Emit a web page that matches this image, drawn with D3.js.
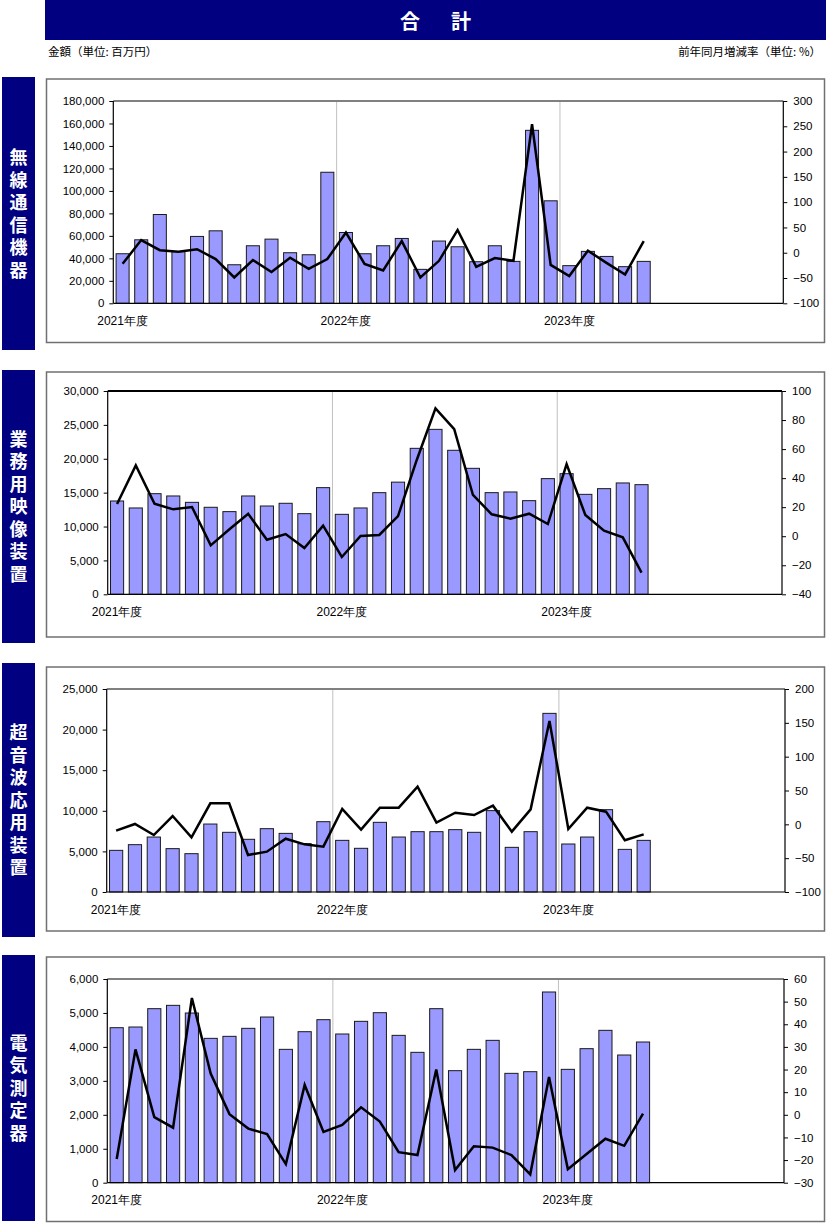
<!DOCTYPE html>
<html><head><meta charset="utf-8">
<script src="https://cdn.jsdelivr.net/npm/d3@7"></script>
<style>body{margin:0;background:#fff}svg{display:block}</style>
</head><body><svg id="c" width="826" height="1224"></svg>
<script>
// ---------- DATA ----------
const months = ["2021/04","2021/05","2021/06","2021/07","2021/08","2021/09","2021/10","2021/11","2021/12","2022/01","2022/02","2022/03",
                "2022/04","2022/05","2022/06","2022/07","2022/08","2022/09","2022/10","2022/11","2022/12","2023/01","2023/02","2023/03",
                "2023/04","2023/05","2023/06","2023/07","2023/08","2023/09","2023/10","2023/11","2023/12","2024/01","2024/02","2024/03"];
const yearLabels = ["2021年度","2022年度","2023年度"];
const yearStartMonths = ["2021/04","2022/04","2023/04"];

const radioValues = [44100,56500,79000,46000,59500,64500,34300,51200,57100,45000,43200,116600,63000,44100,51200,57700,30200,55400,50300,37000,51200,37300,153900,91200,33500,46200,41700,32600,37300];
const radioRates  = [-22,25,5,2,7,-12.5,-49,-14.5,-38,-10,-32,-12.5,40,-22,-35,23,-49,-16,45,-28,-10.5,-16,254,-24,-46,4,-20,-43,23];

const videoValues = [13770,12740,14850,14510,13570,12840,12200,14510,13030,13430,11900,15740,11800,12740,15000,16550,21540,24340,21250,18590,15000,15100,13820,17070,17800,14750,15590,16430,16180];
const videoRates  = [22.2,48.8,22.4,18.5,20.1,-6.3,4.8,15.5,-2.4,1.5,-8.1,7.3,-14.3,0.2,0.9,13.9,52.5,88,73.8,28.4,15.1,12.1,15.5,8.4,49.7,14.6,3.8,-0.8,-25.1];

const ultraValues = [5130,5830,6770,5340,4720,8370,7350,6490,7800,7220,5950,8660,6360,5380,8580,6770,7430,7430,7680,7350,10020,5500,7430,22000,5910,6770,10140,5250,6360];
const ultraRates  = [-9.4,0.5,-15.8,12.3,-19.2,31,31,-45.3,-40.4,-21.2,-29.6,-33,22.7,-7.9,24.6,24.6,55.7,2.5,17.2,13.8,27.6,-10.8,22.2,152.7,-6.9,24.6,18.7,-23.6,-14.8];

const meterValues = [4566,4586,5126,5224,4998,4252,4311,4547,4880,3928,4448,4802,4380,4753,5008,4340,3840,5126,3300,3928,4193,3221,3270,5617,3339,3948,4488,3761,4144];
const meterRates  = [-19.5,28.9,-1,-5.7,51.6,18.2,0.3,-6.1,-8.5,-21.8,13.2,-7.6,-4.5,3.3,-3,-16.5,-17.8,20,-24.4,-13.9,-14.5,-17.8,-26.3,16.7,-24,-17.3,-10.6,-13.7,0.5];

const radioLeftTicks  = [0,20000,40000,60000,80000,100000,120000,140000,160000,180000];
const radioRightTicks = [-100,-50,0,50,100,150,200,250,300];
const videoLeftTicks  = [0,5000,10000,15000,20000,25000,30000];
const videoRightTicks = [-40,-20,0,20,40,60,80,100];
const ultraLeftTicks  = [0,5000,10000,15000,20000,25000];
const ultraRightTicks = [-100,-50,0,50,100,150,200];
const meterLeftTicks  = [0,1000,2000,3000,4000,5000,6000];
const meterRightTicks = [-30,-20,-10,0,10,20,30,40,50,60];

const titleText = "合\u3000\u3000計";
const leftUnitLabel = "金額（単位: 百万円）";
const rightUnitLabel = "前年同月増減率（単位: %）";
const panelNames = ["無線通信機器","業務用映像装置","超音波応用装置","電気測定器"];

// ---------- LAYOUT ----------
const panels = [
  {name:panelNames[0], values:radioValues, rates:radioRates, lt:radioLeftTicks, rt:radioRightTicks,
   box:[77,350], frame:[79,342.5], left:113.3, right:783.3, top:101, bottom:303.3, topColor:"#808080"},
  {name:panelNames[1], values:videoValues, rates:videoRates, lt:videoLeftTicks, rt:videoRightTicks,
   box:[370,643], frame:[372,637], left:107.7, right:782, top:391, bottom:594.3, topColor:"#000"},
  {name:panelNames[2], values:ultraValues, rates:ultraRates, lt:ultraLeftTicks, rt:ultraRightTicks,
   box:[663,937], frame:[667,931], left:106.7, right:785, top:689, bottom:892, topColor:"#808080"},
  {name:panelNames[3], values:meterValues, rates:meterRates, lt:meterLeftTicks, rt:meterRightTicks,
   box:[955,1221], frame:[957,1221.5], left:107.3, right:784, top:979, bottom:1182.7, topColor:"#808080"}
];

const NAVY = "#000080";
const NUMFONT = "'Liberation Sans', Arial, sans-serif";
const JPFONT = "'Noto Sans CJK JP', 'Noto Sans', sans-serif";
const svg = d3.select("#c");

// title
svg.append("rect").attr("x",45).attr("y",0).attr("width",781).attr("height",40).attr("fill",NAVY);
svg.append("text").attr("x",434).attr("y",20).attr("text-anchor","middle").attr("dominant-baseline","central")
  .attr("fill","#fff").attr("font-family",JPFONT).attr("font-weight","bold").attr("font-size",20)
  .attr("letter-spacing",-3).text(titleText);

svg.append("text").attr("x",48).attr("y",51).attr("dominant-baseline","central")
  .attr("font-family",JPFONT).attr("font-size",11.5).attr("fill","#000").text(leftUnitLabel);
svg.append("text").attr("x",821).attr("y",51).attr("dominant-baseline","central").attr("text-anchor","end")
  .attr("font-family",JPFONT).attr("font-size",11.5).attr("fill","#000").text(rightUnitLabel);

const fmtR = d => d < 0 ? "\u2212" + Math.abs(d) : String(d);

panels.forEach(p => {
  // side label box with vertical text
  svg.append("rect").attr("x",2).attr("y",p.box[0]).attr("width",33).attr("height",p.box[1]-p.box[0]).attr("fill",NAVY);
  const cy = (p.box[0]+p.box[1])/2;
  svg.append("text").attr("x",18.5).attr("y",cy + 2.25)
    .attr("writing-mode","vertical-rl").style("writing-mode","vertical-rl")
    .attr("text-anchor","middle").attr("letter-spacing",4.5)
    .attr("fill","#fff").attr("font-family",JPFONT).attr("font-weight","bold").attr("font-size",18).text(p.name);

  // frame
  svg.append("rect").attr("x",46.5).attr("y",p.frame[0]).attr("width",778).attr("height",p.frame[1]-p.frame[0])
    .attr("fill","none").attr("stroke","#707070").attr("stroke-width",1.5);

  const x = d3.scaleBand().domain(months).range([p.left,p.right]).paddingInner(0.3).paddingOuter(0.15);
  const yL = d3.scaleLinear().domain([p.lt[0], p.lt[p.lt.length-1]]).range([p.bottom,p.top]);
  const yR = d3.scaleLinear().domain([p.rt[0], p.rt[p.rt.length-1]]).range([p.bottom,p.top]);
  const g = svg.append("g");

  // year gridlines
  yearStartMonths.slice(1).forEach(m => {
    const gx = x(m) - x.step()*x.paddingInner()/2;
    g.append("line").attr("x1",gx).attr("x2",gx).attr("y1",p.top).attr("y2",p.bottom)
      .attr("stroke","#c0c0c0").attr("stroke-width",1);
  });

  // bars
  g.selectAll("rect.bar").data(p.values).enter().append("rect")
    .attr("x",(d,i)=>x(months[i])).attr("width",x.bandwidth())
    .attr("y",d=>yL(d)).attr("height",d=>yL(0)-yL(d))
    .attr("fill","#9999ff").attr("stroke","#1a1a1a").attr("stroke-width",1);

  // line
  const line = d3.line().x((d,i)=>x(months[i])+x.bandwidth()/2).y(d=>yR(d));
  g.append("path").datum(p.rates).attr("d",line).attr("fill","none")
    .attr("stroke","#000").attr("stroke-width",2.5).attr("stroke-linejoin","miter");

  // plot borders
  g.append("line").attr("x1",p.left).attr("x2",p.right).attr("y1",p.top).attr("y2",p.top)
    .attr("stroke",p.topColor).attr("stroke-width",2);
  g.append("line").attr("x1",p.left).attr("x2",p.right).attr("y1",p.bottom).attr("y2",p.bottom).attr("stroke","#000").attr("stroke-width",1.2);
  g.append("line").attr("x1",p.left).attr("x2",p.left).attr("y1",p.top).attr("y2",p.bottom).attr("stroke","#000").attr("stroke-width",1.2);
  g.append("line").attr("x1",p.right).attr("x2",p.right).attr("y1",p.top).attr("y2",p.bottom).attr("stroke","#000").attr("stroke-width",1.2);

  // axes
  const la = g.append("g").attr("transform",`translate(${p.left},0)`)
    .call(d3.axisLeft(yL).tickValues(p.lt).tickSize(4).tickPadding(5).tickFormat(d3.format(",")));
  const ra = g.append("g").attr("transform",`translate(${p.right},0)`)
    .call(d3.axisRight(yR).tickValues(p.rt).tickSize(4).tickPadding(6).tickFormat(fmtR));
  [la,ra].forEach(a => {
    a.select(".domain").remove();
    a.selectAll("text").attr("font-family",NUMFONT).attr("font-size",11.5).attr("fill","#000");
    a.selectAll("line").attr("stroke","#000");
  });

  // year labels
  g.selectAll("text.yr").data(yearLabels).enter().append("text")
    .attr("x",(d,i)=>x(yearStartMonths[i])+x.bandwidth()/2).attr("y",p.bottom+17.5)
    .attr("text-anchor","middle").attr("dominant-baseline","central")
    .attr("font-family",NUMFONT).attr("font-size",12).attr("fill","#000").text(d=>d);
});
</script></body></html>
